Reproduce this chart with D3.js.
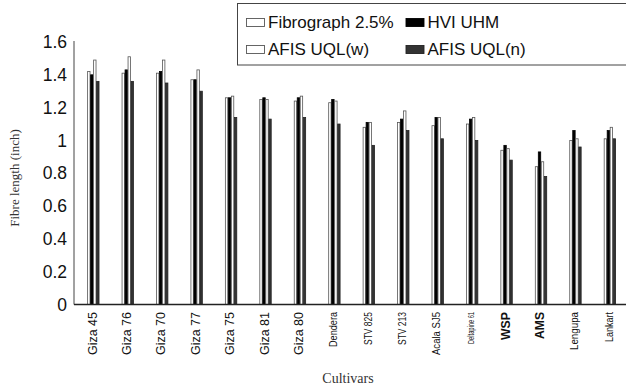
<!DOCTYPE html>
<html><head><meta charset="utf-8">
<script src="https://cdn.jsdelivr.net/npm/d3@7"></script>
<style>body{margin:0;background:#fff}svg{display:block}</style>
</head><body>
<script>
const cultivars = ["Giza 45","Giza 76","Giza 70","Giza 77","Giza 75","Giza 81","Giza 80","Dendera","STV 825","STV 213","Acala SJ5","Deltapine 61","WSP","AMS","Lengupa","Lankart"];
const seriesNames = ["Fibrograph 2.5%","HVI UHM","AFIS UQL(w)","AFIS UQL(n)"];
const fibrograph = [1.42,1.41,1.41,1.37,1.26,1.25,1.24,1.23,1.08,1.11,1.09,1.10,0.94,0.84,1.00,1.01];
const hviUHM     = [1.40,1.43,1.42,1.37,1.26,1.26,1.26,1.25,1.11,1.13,1.14,1.13,0.97,0.93,1.06,1.06];
const afisW      = [1.49,1.51,1.49,1.43,1.27,1.25,1.27,1.24,1.11,1.18,1.14,1.14,0.95,0.87,1.01,1.08];
const afisN      = [1.36,1.36,1.35,1.30,1.14,1.13,1.14,1.10,0.97,1.06,1.01,1.00,0.88,0.78,0.96,1.01];
const yTicks = [0,0.2,0.4,0.6,0.8,1,1.2,1.4,1.6];
const yTitle = "Fibre length (inch)";
const xTitle = "Cultivars";

const seriesValues = [fibrograph, hviUHM, afisW, afisN];
const fills = ["#fff","#000","#fff","#333"];
const strokes = ["#555","#000","#555","#222"];
// label styling (font size, target length, weight)
const labelStyle = {
  "Dendera":{fs:10,len:35},"STV 825":{fs:11,len:33},"STV 213":{fs:11,len:33},
  "Acala SJ5":{fs:11,len:43},"Deltapine 61":{fs:8.5,len:32},"WSP":{fs:13,len:28,bold:true},
  "AMS":{fs:13,len:27,bold:true},"Lengupa":{fs:11,len:38},"Lankart":{fs:11,len:30}
};

const W=626,H=391;
const svg=d3.select("body").append("svg").attr("width",W).attr("height",H);
const x0=d3.scaleBand().domain(cultivars).range([75,626]);
const x1=d3.scaleBand().domain(seriesNames).range([0,12]);
const y=d3.scaleLinear().domain([0,1.6]).range([304.5,42]);

// bars
cultivars.forEach((c,i)=>{
  const g=svg.append("g").attr("transform",`translate(${x0(c)+x0.bandwidth()/2-5},0)`);
  seriesNames.forEach((s,j)=>{
    const v=seriesValues[j][i];
    g.append("rect").attr("x",x1(s)+0.4).attr("width",x1.bandwidth()-0.6)
      .attr("y",y(v)).attr("height",y(0)-y(v))
      .attr("fill",fills[j]).attr("stroke",strokes[j]).attr("stroke-width",0.8);
  });
});

// y axis
const yAxis=d3.axisLeft(y).tickValues(yTicks).tickSize(0).tickPadding(7).tickFormat(d=>d3.format("")(d));
const ya=svg.append("g").attr("transform","translate(74,0)").call(yAxis);
ya.select(".domain").attr("stroke","#444").attr("stroke-width",1).attr("d","M0,41V304.5");
ya.selectAll("text").attr("font-family","Liberation Sans, Arial, sans-serif").attr("font-size",17.5).attr("fill","#111");

// x axis
const xAxis=d3.axisBottom(x0).tickSize(0).tickPadding(0);
const xa=svg.append("g").attr("transform","translate(0,304.5)").call(xAxis);
xa.select(".domain").attr("stroke","#222").attr("stroke-width",1.6).attr("d","M74,0H626");
xa.selectAll(".tick text").each(function(d){
  const st=labelStyle[d]||{fs:12.5};
  const t=d3.select(this);
  t.attr("transform","translate(0,7.5) rotate(-90)").attr("text-anchor","end").attr("x",0).attr("y",0).attr("dy","0.35em")
   .attr("font-family","Liberation Sans, Arial, sans-serif").attr("font-size",st.fs).attr("fill","#111")
   .attr("font-weight",st.bold?"bold":"normal");
  if(st.len) t.attr("textLength",st.len).attr("lengthAdjust","spacingAndGlyphs");
});

// axis titles
svg.append("text").attr("transform","translate(19,178) rotate(-90)").attr("text-anchor","middle")
  .attr("font-family","Liberation Serif, Times New Roman, serif").attr("font-size",13).attr("fill","#333").text(yTitle);
svg.append("text").attr("x",348).attr("y",383).attr("text-anchor","middle")
  .attr("font-family","Liberation Serif, Times New Roman, serif").attr("font-size",14).attr("fill","#333").text(xTitle);

// legend
svg.append("rect").attr("x",237.5).attr("y",3.5).attr("width",400).attr("height",61.5)
  .attr("fill","#fff").attr("stroke","#444").attr("stroke-width",1);
const legPos=[[246,18],[405.5,18],[246,45],[405.5,45]];
seriesNames.forEach((s,j)=>{
  const [lx,ly]=legPos[j];
  svg.append("rect").attr("x",lx+0.5).attr("y",ly+0.5).attr("width",18).attr("height",8)
    .attr("fill",fills[j]).attr("stroke",strokes[j]).attr("stroke-width",0.9);
  svg.append("text").attr("x",lx+22).attr("y",ly+4.5).attr("dy","0.35em")
    .attr("font-family","Liberation Sans, Arial, sans-serif").attr("font-size",17).attr("fill","#111").text(s);
});
</script>
</body></html>
